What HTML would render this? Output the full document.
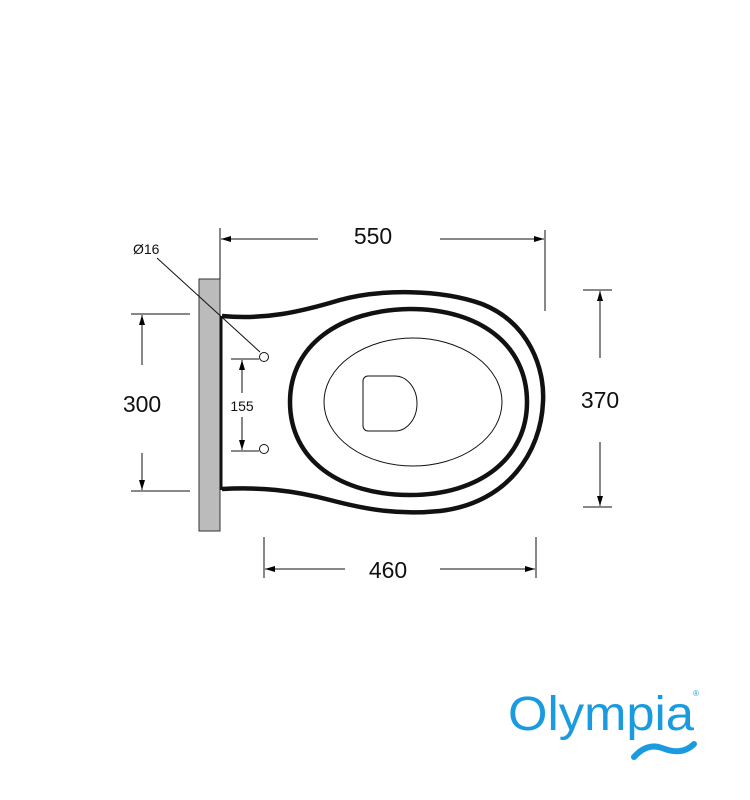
<!DOCTYPE html>
<html><head><style>
body{margin:0;background:#fff;}
svg{display:block;}
text{font-family:"Liberation Sans",sans-serif;}
</style></head><body>
<svg width="750" height="800" viewBox="0 0 750 800" xmlns="http://www.w3.org/2000/svg">
<defs>
<marker id="a" markerWidth="10" markerHeight="6" refX="10" refY="3" orient="auto-start-reverse" markerUnits="userSpaceOnUse">
<path d="M0,0 L10,3 L0,6 Z" fill="#000"/></marker>
</defs>
<rect x="199" y="279" width="21" height="252" fill="#bbb" stroke="#333" stroke-width="1"/>
<line x1="221" y1="316" x2="221" y2="490" stroke="#111" stroke-width="3"/>
<path d="M222,316 C265,320 300,312 340,300 C380,289 440,289 482,304 C530,323 545,370 543,402 C541,452 508,503 440,511 C400,515 368,510 330,500 C292,490 260,487 222,489" fill="none" stroke="#111" stroke-width="4.5"/>
<path d="M290,402 C290,345 340,310 410,309 C480,309 527,345 527,402 C527,458 480,495 410,495 C340,495 290,460 290,402 Z" fill="none" stroke="#111" stroke-width="4.5"/>
<ellipse cx="413" cy="402" rx="89" ry="64" fill="none" stroke="#111" stroke-width="1"/>
<path d="M368,376 H395 A22,27.5 0 0 1 395,431 H368 A5,5 0 0 1 363,426 V381 A5,5 0 0 1 368,376 Z" fill="none" stroke="#111" stroke-width="1"/>
<circle cx="264" cy="357" r="4.5" fill="#fff" stroke="#111" stroke-width="1"/>
<circle cx="264" cy="449" r="4.5" fill="#fff" stroke="#111" stroke-width="1"/>
<g stroke="#111" stroke-width="1" fill="none">
<line x1="231" y1="359" x2="259" y2="359"/>
<line x1="231" y1="451" x2="259" y2="451"/>
<line x1="242" y1="360" x2="242" y2="393" marker-start="url(#a)"/>
<line x1="242" y1="417" x2="242" y2="450" marker-end="url(#a)"/>
<line x1="157" y1="258" x2="260" y2="352"/>
<line x1="131" y1="314" x2="190" y2="314"/>
<line x1="131" y1="491" x2="190" y2="491"/>
<line x1="142" y1="315" x2="142" y2="365" marker-start="url(#a)"/>
<line x1="142" y1="453" x2="142" y2="490" marker-end="url(#a)"/>
<line x1="220" y1="228" x2="220" y2="279"/>
<line x1="545" y1="230" x2="545" y2="311"/>
<line x1="221" y1="239" x2="318" y2="239" marker-start="url(#a)"/>
<line x1="440" y1="239" x2="544" y2="239" marker-end="url(#a)"/>
<line x1="583" y1="290" x2="612" y2="290"/>
<line x1="583" y1="507" x2="612" y2="507"/>
<line x1="600" y1="291" x2="600" y2="358" marker-start="url(#a)"/>
<line x1="600" y1="442" x2="600" y2="506" marker-end="url(#a)"/>
<line x1="264" y1="537" x2="264" y2="578"/>
<line x1="536" y1="537" x2="536" y2="578"/>
<line x1="265" y1="569" x2="345" y2="569" marker-start="url(#a)"/>
<line x1="440" y1="569" x2="535" y2="569" marker-end="url(#a)"/>
</g>
<g fill="#111">
<text x="142" y="412" font-size="23" text-anchor="middle">300</text>
<text x="373" y="244" font-size="23" text-anchor="middle">550</text>
<text x="600" y="408" font-size="23" text-anchor="middle">370</text>
<text x="388" y="578" font-size="23" text-anchor="middle">460</text>
<text x="242" y="411" font-size="14" text-anchor="middle">155</text>
<text x="133" y="254" font-size="14">Ø16</text>
</g>
<text x="508" y="730" font-size="48" fill="#1a9be0" textLength="186" lengthAdjust="spacingAndGlyphs">Olympia</text>
<text x="693" y="696" font-size="8" fill="#1a9be0">®</text>
<path d="M634,757 C642,748 652,744 662,748 C672,752 684,754 694,744" fill="none" stroke="#1a9be0" stroke-width="6" stroke-linecap="round"/>
</svg>
</body></html>
